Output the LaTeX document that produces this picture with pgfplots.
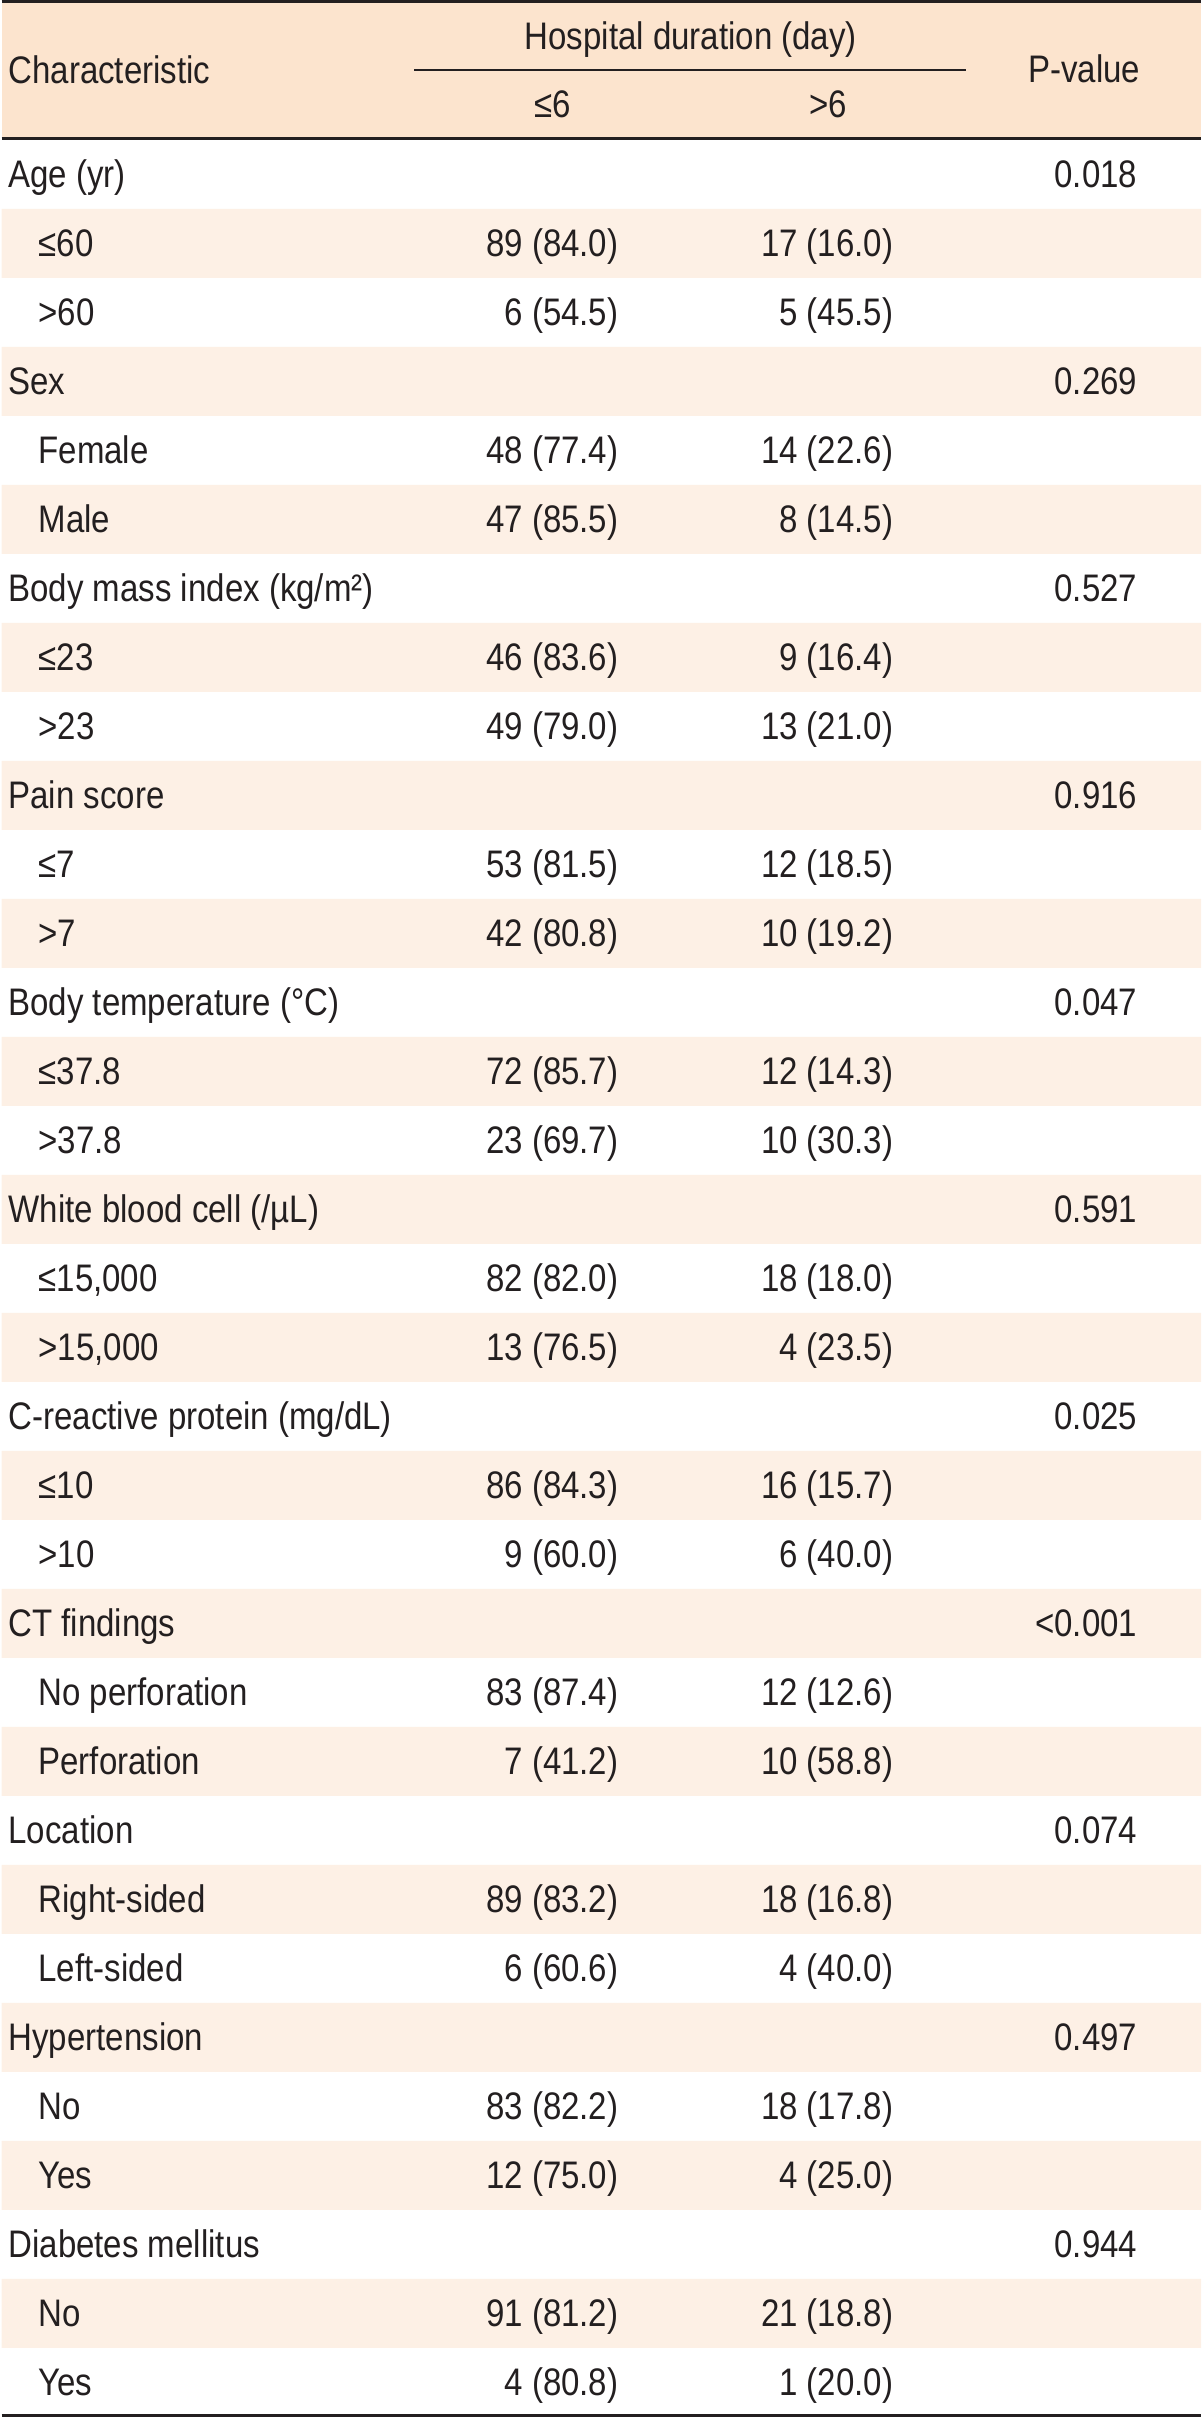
\documentclass[border=0pt]{standalone}
\usepackage{fontspec}
\setmainfont{Liberation Sans}[FakeStretch=0.86]
\usepackage{pgfplots}
\pgfplotsset{compat=1.18}
\definecolor{hdr}{RGB}{252,228,206}
\definecolor{rowc}{RGB}{253,240,229}
\definecolor{ink}{RGB}{35,31,32}
\begin{document}
\begin{tikzpicture}[font=\fontsize{9.6}{11}\selectfont]
\begin{axis}[
  scale only axis, width=300pt, height=604.25pt,
  xmin=0, xmax=1200, ymin=0, ymax=2417, y dir=reverse,
  hide axis, clip=false,
  txt/.style={only marks, mark=none, nodes near coords, point meta=explicit symbolic,
    every node near coord/.append style={inner sep=0pt, outer sep=0pt, text=ink, anchor=#1}},
  band/.style={xbar, bar shift=0pt, bar width=#1, draw=none},
  rule/.style={draw=ink, line width=#1, mark=none},
]
% background
\addplot[band=2417, fill=white] coordinates {(1200,1208.5)};
% header band
\addplot[band=140, fill=hdr] coordinates {(1200,70)};
% alternating row bands
\addplot[band=69, fill=rowc] coordinates {
 (1200,243.5) (1200,381.5) (1200,519.5) (1200,657.5) (1200,795.5) (1200,933.5)
 (1200,1071.5) (1200,1209.5) (1200,1347.5) (1200,1485.5) (1200,1623.5) (1200,1761.5)
 (1200,1899.5) (1200,2037.5) (1200,2175.5) (1200,2313.5)};
% rules
\addplot[rule=0.75pt] coordinates {(0,1.5) (1200,1.5)};
\addplot[rule=0.65pt] coordinates {(413,70) (965,70)};
\addplot[rule=0.75pt] coordinates {(0,139) (1200,139)};
\addplot[rule=0.8pt] coordinates {(0,2415.5) (1200,2415.5)};
% header text
\addplot[txt=base west] coordinates {(7,84) [Characteristic]};
\addplot[txt=base] coordinates {(689.5,50) [Hospital duration (day)] (551,118) [≤6] (827,118) [>6] (1083,83) [P-value]};
% group labels
\addplot[txt=base west] coordinates {
 (7,188) [Age (yr)]
 (7,395) [Sex]
 (7,602) [Body mass index (kg/m²)]
 (7,809) [Pain score]
 (7,1016) [Body temperature (°C)]
 (7,1223) [White blood cell (/µL)]
 (7,1430) [C-reactive protein (mg/dL)]
 (7,1637) [CT findings]
 (7,1844) [Location]
 (7,2051) [Hypertension]
 (7,2258) [Diabetes mellitus]};
% sub labels
\addplot[txt=base west] coordinates {
 (37,257) [≤60] (37,326) [>60]
 (37,464) [Female] (37,533) [Male]
 (37,671) [≤23] (37,740) [>23]
 (37,878) [≤7] (37,947) [>7]
 (37,1085) [≤37.8] (37,1154) [>37.8]
 (37,1292) [≤15,000] (37,1361) [>15,000]
 (37,1499) [≤10] (37,1568) [>10]
 (37,1706) [No perforation] (37,1775) [Perforation]
 (37,1913) [Right-sided] (37,1982) [Left-sided]
 (37,2120) [No] (37,2189) [Yes]
 (37,2327) [No] (37,2396) [Yes]};
% hospital duration <= 6
\addplot[txt=base east] coordinates {
 (617,257) [89 (84.0)] (617,326) [6 (54.5)]
 (617,464) [48 (77.4)] (617,533) [47 (85.5)]
 (617,671) [46 (83.6)] (617,740) [49 (79.0)]
 (617,878) [53 (81.5)] (617,947) [42 (80.8)]
 (617,1085) [72 (85.7)] (617,1154) [23 (69.7)]
 (617,1292) [82 (82.0)] (617,1361) [13 (76.5)]
 (617,1499) [86 (84.3)] (617,1568) [9 (60.0)]
 (617,1706) [83 (87.4)] (617,1775) [7 (41.2)]
 (617,1913) [89 (83.2)] (617,1982) [6 (60.6)]
 (617,2120) [83 (82.2)] (617,2189) [12 (75.0)]
 (617,2327) [91 (81.2)] (617,2396) [4 (80.8)]};
% hospital duration > 6
\addplot[txt=base east] coordinates {
 (892,257) [17 (16.0)] (892,326) [5 (45.5)]
 (892,464) [14 (22.6)] (892,533) [8 (14.5)]
 (892,671) [9 (16.4)] (892,740) [13 (21.0)]
 (892,878) [12 (18.5)] (892,947) [10 (19.2)]
 (892,1085) [12 (14.3)] (892,1154) [10 (30.3)]
 (892,1292) [18 (18.0)] (892,1361) [4 (23.5)]
 (892,1499) [16 (15.7)] (892,1568) [6 (40.0)]
 (892,1706) [12 (12.6)] (892,1775) [10 (58.8)]
 (892,1913) [18 (16.8)] (892,1982) [4 (40.0)]
 (892,2120) [18 (17.8)] (892,2189) [4 (25.0)]
 (892,2327) [21 (18.8)] (892,2396) [1 (20.0)]};
% p-values
\addplot[txt=base east] coordinates {
 (1136,188) [0.018] (1136,395) [0.269] (1136,602) [0.527] (1136,809) [0.916]
 (1136,1016) [0.047] (1136,1223) [0.591] (1136,1430) [0.025] (1136,1637) [<0.001]
 (1136,1844) [0.074] (1136,2051) [0.497] (1136,2258) [0.944]};
\end{axis}
\end{tikzpicture}
\end{document}
